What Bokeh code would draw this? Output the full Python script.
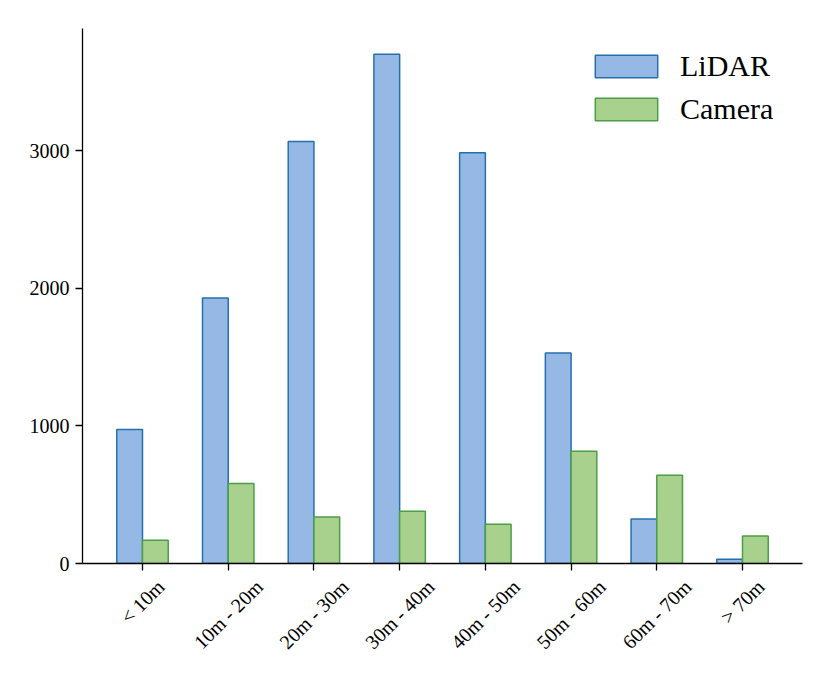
import math
from bokeh.plotting import figure
from bokeh.models import ColumnDataSource, Range1d, FactorRange, FixedTicker, Legend
from bokeh.core.properties import value
from bokeh.transform import dodge
from bokeh.embed import file_html
from bokeh.resources import INLINE

categories = ["< 10m", "10m - 20m", "20m - 30m", "30m - 40m", "40m - 50m", "50m - 60m", "60m - 70m", "> 70m"]
lidar = [974, 1930, 3069, 3703, 2987, 1531, 324, 31]
camera = [169, 581, 339, 380, 286, 816, 642, 200]
y_ticks = [0, 1000, 2000, 3000]

FONT = "Liberation Serif"
TICK_FS = 20

# approximate Times/Liberation Serif advance widths (em) to centre rotated labels
_W = {" ": 0.25, "<": 0.564, ">": 0.564, "-": 0.333, "m": 0.778}
def text_len(s):
    return sum(_W.get(c, 0.5) for c in s) * TICK_FS

label_offsets = [15 + 0.3535 * (text_len(c) + 0.68 * TICK_FS) for c in categories]

source = ColumnDataSource(dict(cat=categories, lidar=lidar, camera=camera,
                               zero=[0] * len(categories), yoff=label_offsets))

x_range = FactorRange(factors=categories, range_padding=0.2, range_padding_units="absolute")
p = figure(width=820, height=672, x_range=x_range, y_range=Range1d(0, 3890),
           output_backend="svg", toolbar_location=None,
           min_border_left=82, min_border_right=18, min_border_top=28, min_border_bottom=109)
p.outline_line_color = None
p.xgrid.visible = False
p.ygrid.visible = False

r1 = p.vbar(x=dodge("cat", -0.15, range=p.x_range), top="lidar", width=0.3, source=source,
            fill_color="#95b9e4", line_color="#2470ae", line_width=1.5)
r2 = p.vbar(x=dodge("cat", 0.15, range=p.x_range), top="camera", width=0.3, source=source,
            fill_color="#a9d18e", line_color="#4a9e46", line_width=1.5)

for ax in (p.xaxis[0], p.yaxis[0]):
    ax.axis_line_color = "black"
    ax.axis_line_width = 1.3
    ax.major_tick_line_color = "black"
    ax.major_tick_line_width = 1.3
    ax.major_tick_out = 7
    ax.major_tick_in = 0
    ax.minor_tick_line_color = None
    ax.major_label_text_font = FONT
    ax.major_label_text_font_size = f"{TICK_FS}px"
    ax.major_label_text_color = "black"
    ax.major_label_standoff = 6

p.yaxis[0].ticker = FixedTicker(ticks=y_ticks)
# category labels are drawn rotated and centred below the ticks by the text glyph
p.xaxis[0].major_label_text_color = None

tl = p.text(x="cat", y="zero", text="cat", source=source, angle=math.pi / 4,
            y_offset="yoff", text_align="center", text_baseline="middle",
            text_font=value(FONT), text_font_size=f"{TICK_FS}px", text_color="black")
tl.level = "overlay"

legend = Legend(items=[("LiDAR", [r1]), ("Camera", [r2])], location=(505, 437),
                label_text_font=FONT, label_text_font_size="30px", label_text_color="black",
                glyph_width=78, glyph_height=28, label_standoff=15,
                spacing=9, padding=0, margin=0,
                border_line_color=None, background_fill_alpha=0)
p.add_layout(legend)

open("out.html", "w").write(file_html(p, INLINE))
